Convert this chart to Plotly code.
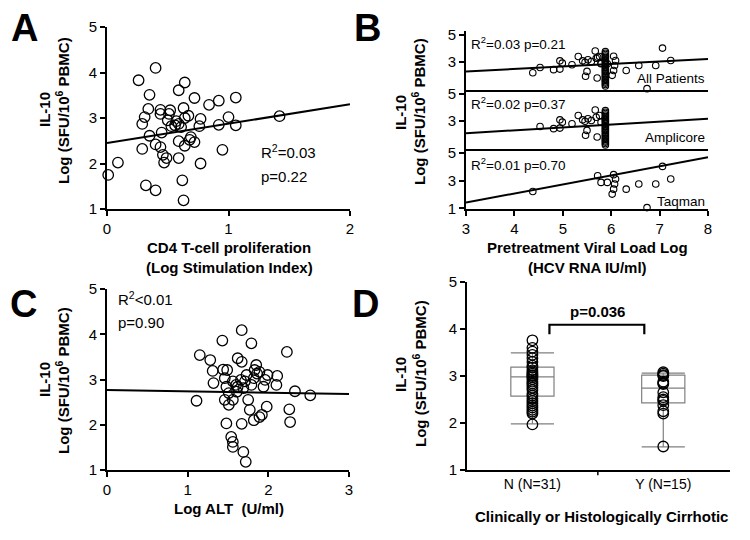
import plotly.graph_objects as go

W, H = 750, 540
OFF = 8  # the page body adds an 8 px margin; positions below are reference pixels
FONT = "Liberation Sans, Arial, DejaVu Sans"

# ---------------- Panel A: CD4 proliferation vs IL-10 ----------------
a_x = [0.40, 0.26, 0.64, 0.59, 0.35, 0.72, 0.92, 1.06, 0.84, 0.34, 0.44, 0.52, 0.63,
       0.31, 0.44, 0.51, 0.67, 0.29, 0.57, 0.59, 0.56, 0.61, 0.77, 1.00, 0.92, 1.06,
       0.35, 0.45, 0.69, 0.68, 0.72, 0.29, 0.44, 0.59, 0.64, 0.46, 0.49, 0.47, 0.59,
       0.77, 0.95, 0.09, 0.01, 0.32, 0.40, 0.62, 0.63, 1.42, 0.40, 0.53, 0.64, 0.76,
       0.50]
a_y = [4.10, 3.83, 3.78, 3.61, 3.51, 3.44, 3.38, 3.45, 3.29, 3.20, 3.18, 3.17, 3.22,
       3.02, 3.09, 3.09, 3.05, 2.87, 2.93, 2.87, 2.84, 2.80, 2.98, 3.02, 2.85, 2.84,
       2.61, 2.68, 2.58, 2.52, 2.47, 2.32, 2.36, 2.49, 2.39, 2.19, 2.12, 2.02, 2.12,
       2.00, 2.30, 2.02, 1.75, 1.52, 1.41, 1.63, 1.19, 3.04, 2.42, 2.82, 3.00, 2.82,
       2.95]
a_fit_x = [0, 2]
a_fit_y = [2.45, 3.30]

# ---------------- Panel B: viral load vs IL-10 ----------------
amp_x = [4.53, 4.81, 4.94, 4.94, 4.99, 5.19, 5.32, 5.41, 5.46, 5.47, 5.52, 5.50,
         5.59, 5.67, 5.71, 5.76, 5.79, 5.69,
         5.88, 5.88, 5.88, 5.88, 5.88, 5.88, 5.88, 5.88, 5.88, 5.88, 5.88, 5.88, 5.88,
         5.88, 5.88, 5.88, 5.88, 5.88, 5.88, 5.88, 5.88, 5.88, 5.88, 5.88, 5.88, 5.88]
amp_y = [2.61, 2.45, 2.49, 3.10, 2.93, 2.81, 3.42, 3.10, 3.00, 1.96, 3.18, 2.32,
         3.05, 3.83, 1.83, 3.42, 2.93, 3.29,
         3.78, 3.66, 3.57, 3.46, 3.36, 3.27, 3.15, 3.06, 2.97, 2.86, 2.77, 2.66, 2.57,
         2.46, 2.36, 2.27, 2.16, 2.06, 1.95, 1.86, 1.74, 1.66, 1.55, 1.46, 1.35, 1.25]
taq_x = [4.38, 5.72, 5.79, 5.92, 6.05, 6.09, 6.07, 6.05, 6.02, 6.31, 6.57, 6.92,
         7.23, 7.06, 6.74]
taq_y = [2.22, 3.36, 2.88, 2.88, 3.44, 3.12, 2.76, 2.39, 2.03, 2.39, 2.76, 2.76,
         3.12, 4.04, 1.05]
all_x = amp_x + taq_x
all_y = amp_y + taq_y
b_fit_x = [3, 8]
all_fit_y = [2.31, 3.24]
amp_fit_y = [2.12, 3.18]
taq_fit_y = [1.42, 4.70]
b_labels = ["All Patients", "Amplicore", "Taqman"]
b_stats = ["R<sup>2</sup>=0.03 p=0.21", "R<sup>2</sup>=0.02 p=0.37", "R<sup>2</sup>=0.01 p=0.70"]

# ---------------- Panel C: ALT vs IL-10 ----------------
c_x = [1.67, 1.43, 1.79, 2.23, 1.15, 1.28, 1.62, 1.67, 1.31, 1.44, 1.49, 1.85, 1.83,
       1.86, 1.89, 1.82, 1.99, 2.11, 2.10, 1.96, 1.73, 1.71, 1.60, 1.32, 1.46, 1.56,
       1.66, 1.48, 1.61, 1.51, 1.69, 1.79, 1.94, 2.33, 2.52, 1.11, 1.46, 1.56, 1.51,
       1.75, 1.77, 1.98, 2.26, 2.27, 1.82, 1.89, 1.92, 1.48, 1.67, 1.54, 1.56, 1.56,
       1.69, 1.72, 1.62]
c_y = [4.09, 3.86, 3.80, 3.61, 3.54, 3.43, 3.47, 3.39, 3.19, 3.22, 3.21, 3.32, 3.21,
       3.13, 3.17, 3.03, 3.10, 3.08, 2.88, 2.99, 3.10, 2.96, 2.88, 2.92, 3.03, 2.96,
       2.99, 2.84, 2.73, 2.70, 2.81, 2.88, 2.84, 2.74, 2.65, 2.53, 2.55, 2.55, 2.44,
       2.55, 2.33, 2.40, 2.34, 2.06, 2.10, 2.17, 2.22, 2.03, 2.02, 1.73, 1.62, 1.51,
       1.40, 1.18, 2.84]
c_fit_x = [0, 3]
c_fit_y = [2.77, 2.68]

# ---------------- Panel D: cirrhosis ----------------
d_groups = ["N (N=31)", "Y (N=15)"]
d_pos = [0, 1]
d_n = [3.76, 3.60, 3.52, 3.45, 3.38, 3.30, 3.22, 3.18, 3.12, 3.08, 3.05, 3.02, 3.00,
       2.97, 2.93, 2.88, 2.84, 2.80, 2.75, 2.70, 2.62, 2.58, 2.52, 2.47, 2.42, 2.37,
       2.33, 2.28, 2.24, 2.20, 1.97]
d_y = [3.08, 3.05, 3.02, 3.00, 2.88, 2.85, 2.83, 2.65, 2.55, 2.50, 2.47, 2.38, 2.25,
       2.20, 1.50]
d_q1 = [2.57, 2.43]
d_med = [2.98, 2.74]
d_q3 = [3.19, 3.02]
d_lo = [1.98, 1.49]
d_hi = [3.49, 3.06]
d_p_text = "p=0.036"
d_bracket_x = [0.13, 0.855]
d_bracket_y = [3.89, 4.09]


def xd(p0, p1):
    return [(p0 - OFF) / W, (p1 - OFF) / W]


def yd(top, bot):
    return [1 - (bot - OFF) / H, 1 - (top - OFF) / H]


def P(px, py):
    return (px - OFF) / W, 1 - (py - OFF) / H


axis_common = dict(showline=True, linecolor="black", linewidth=1.6, showgrid=False,
                   zeroline=False, ticks="outside", ticklen=5, tickwidth=1.5,
                   tickcolor="black", tickfont=dict(family=FONT, size=15, color="black"),
                   mirror=False, automargin=False)

fig = go.Figure()

circ = dict(symbol="circle-open", size=10.5, color="black", line=dict(width=1.3, color="black"))
small = dict(symbol="circle-open", size=6.5, color="black", line=dict(width=1.1, color="black"))

# A
fig.add_trace(go.Scatter(x=a_x, y=a_y, mode="markers", marker=circ, xaxis="x", yaxis="y",
                         cliponaxis=False))
fig.add_trace(go.Scatter(x=a_fit_x, y=a_fit_y, mode="lines", line=dict(color="black", width=2),
                         xaxis="x", yaxis="y"))
# B
for xs, ys, fy, ax in [(all_x, all_y, all_fit_y, "2"), (amp_x, amp_y, amp_fit_y, "3"),
                       (taq_x, taq_y, taq_fit_y, "4")]:
    fig.add_trace(go.Scatter(x=xs, y=ys, mode="markers", marker=small, xaxis="x" + ax,
                             yaxis="y" + ax, cliponaxis=False))
    fig.add_trace(go.Scatter(x=b_fit_x, y=fy, mode="lines", line=dict(color="black", width=2),
                             xaxis="x" + ax, yaxis="y" + ax))
# C
fig.add_trace(go.Scatter(x=c_x, y=c_y, mode="markers", marker=circ, xaxis="x5", yaxis="y5",
                         cliponaxis=False))
fig.add_trace(go.Scatter(x=c_fit_x, y=c_fit_y, mode="lines", line=dict(color="black", width=2),
                         xaxis="x5", yaxis="y5"))
# D boxes
fig.add_trace(go.Box(x=d_pos, q1=d_q1, median=d_med, q3=d_q3, lowerfence=d_lo, upperfence=d_hi,
                     width=0.33, whiskerwidth=1, fillcolor="rgba(0,0,0,0)",
                     line=dict(color="#808080", width=1.2), xaxis="x6", yaxis="y6",
                     boxpoints=False, hoverinfo="skip"))
fig.add_trace(go.Scatter(x=[d_pos[0]] * len(d_n), y=d_n, mode="markers", marker=circ,
                         xaxis="x6", yaxis="y6", cliponaxis=False))
fig.add_trace(go.Scatter(x=[d_pos[1]] * len(d_y), y=d_y, mode="markers", marker=circ,
                         xaxis="x6", yaxis="y6", cliponaxis=False))
fig.add_trace(go.Scatter(x=[d_bracket_x[0], d_bracket_x[0], d_bracket_x[1], d_bracket_x[1]],
                         y=[d_bracket_y[0], d_bracket_y[1], d_bracket_y[1], d_bracket_y[0]],
                         mode="lines", line=dict(color="black", width=2.2),
                         xaxis="x6", yaxis="y6"))

lay = dict(width=W, height=H, margin=dict(l=0, r=0, t=0, b=0), showlegend=False,
           plot_bgcolor="white", paper_bgcolor="white",
           font=dict(family=FONT, color="black"))

# A axes
lay["xaxis"] = dict(axis_common, domain=xd(107, 350), range=[0, 2], tickvals=[0, 1, 2],
                    anchor="y")
lay["yaxis"] = dict(axis_common, domain=yd(27, 209), range=[1, 5], tickvals=[1, 2, 3, 4, 5],
                    anchor="x")
# B axes
b_dom = xd(466, 708)
b_rng = [0.95, 5.3]
for i, (top, bot) in zip(["2", "3", "4"], [(31, 90), (90, 149), (149, 209)]):
    last = i == "4"
    lay["xaxis" + i] = dict(axis_common, domain=b_dom, range=[3, 8], anchor="y" + i,
                            tickvals=[3, 4, 5, 6, 7, 8], showticklabels=last,
                            ticks="outside" if last else "")
    lay["yaxis" + i] = dict(axis_common, domain=yd(top, bot), range=b_rng, anchor="x" + i,
                            tickvals=[1, 3, 5] if last else [3, 5])
# C axes
lay["xaxis5"] = dict(axis_common, domain=xd(107, 349), range=[0, 3], tickvals=[0, 1, 2, 3],
                     anchor="y5")
lay["yaxis5"] = dict(axis_common, domain=yd(289, 470), range=[1, 5], tickvals=[1, 2, 3, 4, 5],
                     anchor="x5")
# D axes
lay["xaxis6"] = dict(axis_common, domain=xd(467, 730), range=[-0.5, 1.51], tickvals=d_pos,
                     ticktext=d_groups, ticks="", anchor="y6",
                     tickfont=dict(family=FONT, size=14, color="black"))
lay["yaxis6"] = dict(axis_common, domain=yd(282, 470), range=[1, 5], tickvals=[1, 2, 3, 4, 5],
                     anchor="x6")
fig.update_layout(**lay)

fig.add_shape(type="line", xref="x6", yref="y6 domain", x0=0.5, x1=0.5, y0=0, y1=-0.028,
              line=dict(color="black", width=1.5))

ann = []


def txt(pos, t, size=15, bold=False, angle=0, xanchor="center"):
    ann.append(dict(x=pos[0], y=pos[1], text=f"<b>{t}</b>" if bold else t, showarrow=False,
                    xref="paper", yref="paper", xanchor=xanchor, yanchor="middle",
                    textangle=angle, font=dict(family=FONT, size=size, color="black")))


ylab1 = "IL-10"
ylab2 = "Log (SFU/10<sup>6</sup> PBMC)"
# panel letters
for L, (px, py) in zip("ABCD", [(24, 28), (367, 28), (23, 304), (365, 304)]):
    txt(P(px, py), L, size=38, bold=True)
# y titles
for (x1, x2, yc) in [(44, 62, 110), (400, 418, 112), (44, 62, 380), (400, 419, 374)]:
    txt(P(x1, yc), ylab1, size=15, bold=True, angle=-90)
    txt(P(x2, yc), ylab2, size=15, bold=True, angle=-90)
# x titles
txt(P(229, 247), "CD4 T-cell proliferation", size=15, bold=True)
txt(P(229, 267), "(Log Stimulation Index)", size=15, bold=True)
txt(P(587, 247), "Pretreatment Viral Load Log", size=15, bold=True)
txt(P(587, 267), "(HCV RNA IU/ml)", size=15, bold=True)
txt(P(229, 508), "Log ALT  (U/ml)", size=15, bold=True)
txt(P(601, 516), "Clinically or Histologically Cirrhotic", size=15, bold=True)
# stats
txt(P(259, 152), "R<sup>2</sup>=0.03", size=15, xanchor="left")
txt(P(259, 176), "p=0.22", size=15, xanchor="left")
txt(P(116, 298), "R<sup>2</sup><0.01", size=15, xanchor="left")
txt(P(116, 322), "p=0.90", size=15, xanchor="left")
for s, py in zip(b_stats, [43, 103, 164]):
    txt(P(469, py), s, size=13.5, xanchor="left")
for s, py in zip(b_labels, [78, 138, 201]):
    txt(P(707, py), s, size=13.5, xanchor="right")
ann.append(dict(x=0.5, y=4.38, xref="x6", yref="y6", text=f"<b>{d_p_text}</b>",
                showarrow=False, font=dict(family=FONT, size=15, color="black")))

fig.update_layout(annotations=ann)
fig.write_html("out.html")
